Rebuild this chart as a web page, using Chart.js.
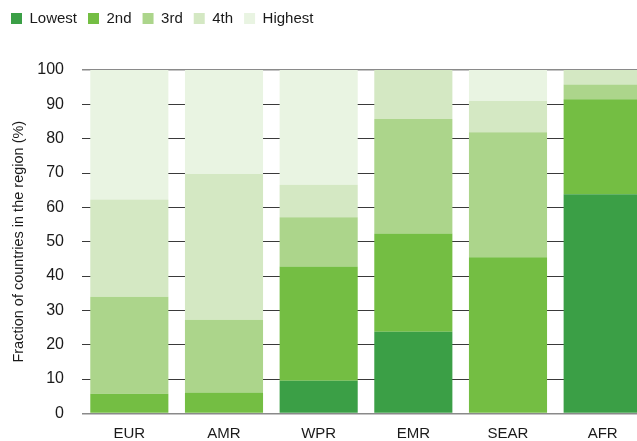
<!DOCTYPE html>
<html>
<head>
<meta charset="utf-8">
<script src="https://cdn.jsdelivr.net/npm/chart.js@4"></script>
<style>
  html, body { margin: 0; padding: 0; background: #fff; overflow: hidden; }
  #wrap { width: 650px; height: 441px; }
</style>
</head>
<body>
<div id="wrap"><canvas id="chart" width="650" height="441"></canvas></div>
<script>
"use strict";

// regions along the x axis
const regions = ['EUR', 'AMR', 'WPR', 'EMR', 'SEAR', 'AFR'];

// fraction of countries (%) in each quintile, per region
const lowest  = [0,    0,    9.5,  23.8, 0,    63.8];
const second  = [5.7,  6.1,  33.3, 28.6, 45.5, 27.7];
const third   = [28.3, 21.2, 14.3, 33.3, 36.4, 4.3];
const fourth  = [28.3, 42.4, 9.5,  14.3, 9.1,  4.2];
const highest = [37.7, 30.3, 33.4, 0,    9.0,  0];

const yTicks = [0, 10, 20, 30, 40, 50, 60, 70, 80, 90, 100];

const FONT = '"Liberation Sans", Arial, sans-serif';

function makeSet(label, data, color) {
    return {
        label,
        data,
        backgroundColor: color,
        borderWidth: 0,
        categoryPercentage: 1,
        barPercentage: 0.825
    };
}

// push the plot area down below the legend
const legendGap = {
    id: 'legendGap',
    beforeInit(chart) {
        const fit = chart.legend.fit;
        chart.legend.fit = function () {
            fit.call(this);
            this.height += 34;
        };
    }
};

const cfg = {
    type: 'bar',
    data: {
        labels: regions,
        datasets: [
            makeSet('Lowest', lowest, '#3b9f46'),
            makeSet('2nd', second, '#74be43'),
            makeSet('3rd', third, '#acd58b'),
            makeSet('4th', fourth, '#d4e8c3'),
            makeSet('Highest', highest, '#e9f4e2')
        ]
    },
    options: {
        responsive: false,
        animation: false,
        layout: { padding: 0 },
        plugins: {
            tooltip: { enabled: false },
            legend: {
                position: 'top',
                align: 'start',
                labels: {
                    boxWidth: 11,
                    boxHeight: 11,
                    padding: 11,
                    color: '#1a1a1a',
                    font: { family: FONT, size: 15 }
                }
            }
        },
        scales: {
            x: {
                stacked: true,
                offset: true,
                grid: { display: false, drawTicks: false },
                border: { display: false },
                afterFit: (axis) => { axis.height = 27; },
                ticks: { color: '#1a1a1a', padding: 11, font: { family: FONT, size: 15 } }
            },
            y: {
                stacked: true,
                min: 0,
                max: 100,
                afterBuildTicks: (axis) => { axis.ticks = yTicks.map(v => ({ value: v })); },
                afterFit: (axis) => { axis.width = 82; },
                grid: {
                    color: (ctx) => (ctx.tick && (ctx.tick.value === 0 || ctx.tick.value === 100)) ? '#8a8a8a' : '#3a3a3a',
                    lineWidth: (ctx) => (ctx.tick && (ctx.tick.value === 0 || ctx.tick.value === 100)) ? 1.5 : 1,
                    drawTicks: false
                },
                border: { display: false },
                ticks: { color: '#1a1a1a', padding: 18, font: { family: FONT, size: 16 } },
                title: {
                    display: true,
                    text: 'Fraction of countries in the region (%)',
                    color: '#1a1a1a',
                    padding: { top: 10, bottom: 0 },
                    font: { family: FONT, size: 14.5 }
                }
            }
        }
    },
    plugins: [legendGap]
};

new Chart(document.getElementById('chart'), cfg);
</script>
</body>
</html>
